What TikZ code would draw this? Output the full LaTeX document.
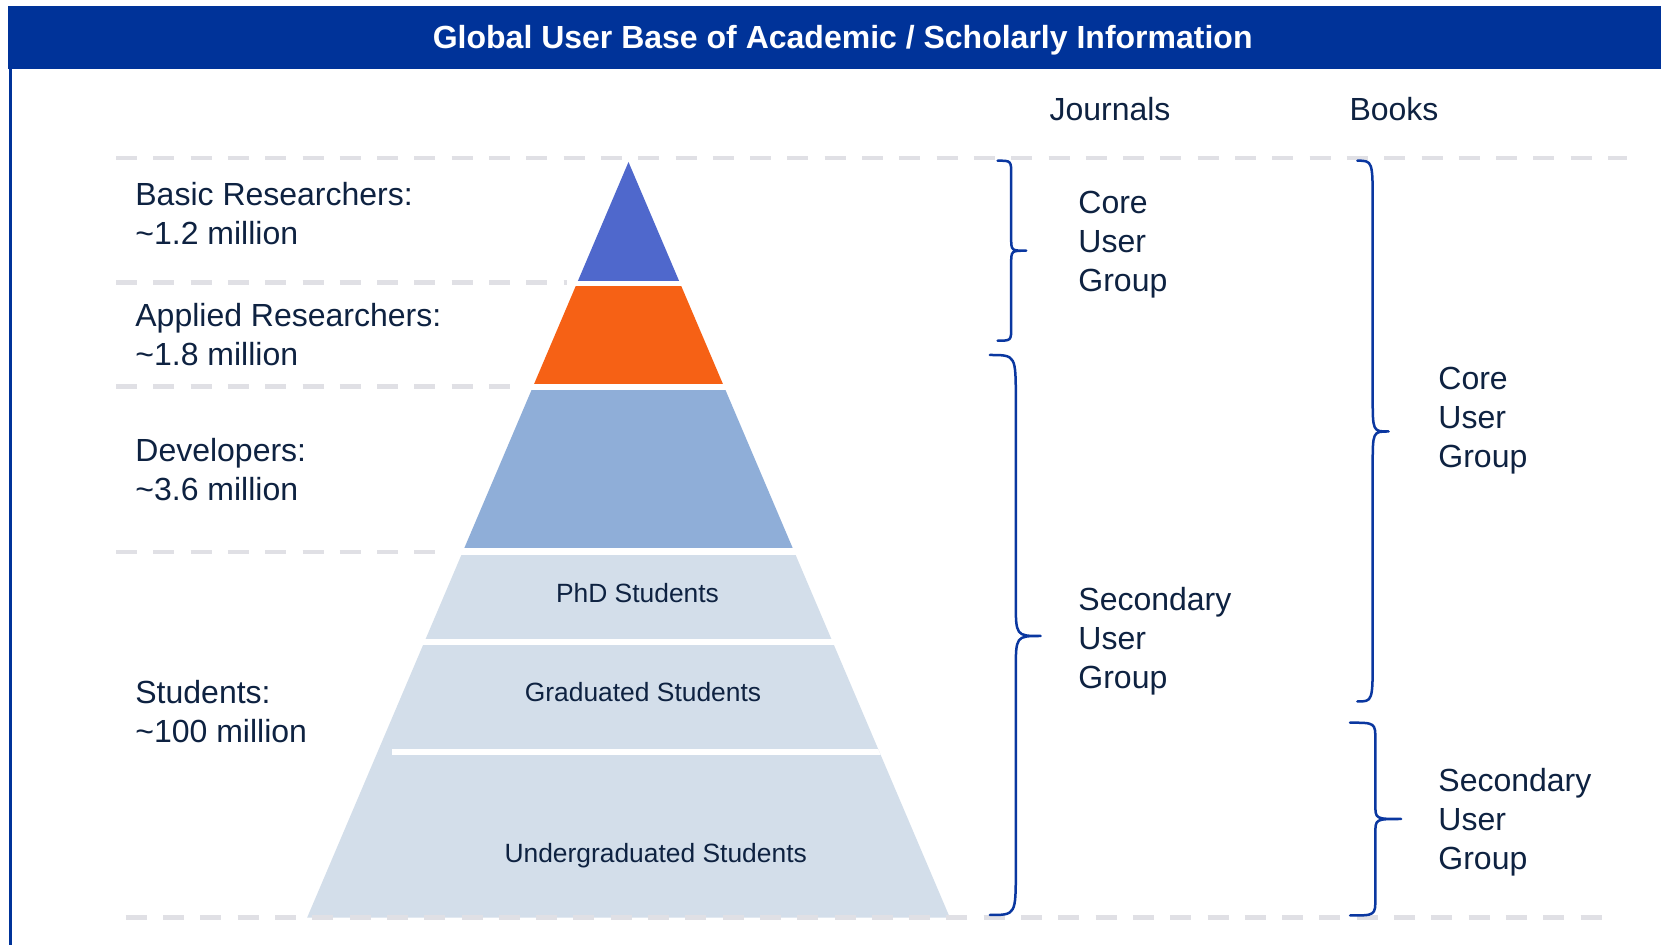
\documentclass[tikz,border=0pt]{standalone}
\usepackage{fontspec}
\setmainfont{Liberation Sans}
\definecolor{barblue}{HTML}{003399}
\definecolor{txt}{HTML}{0E2241}
\definecolor{tipblue}{HTML}{4F68CC}
\definecolor{orng}{HTML}{F66115}
\definecolor{midblue}{HTML}{8FAED8}
\definecolor{pale}{HTML}{D3DEEA}
\definecolor{dashgray}{HTML}{E0E0E5}
\definecolor{bracecol}{HTML}{0A37A0}
\begin{document}
\begin{tikzpicture}[x=0.5pt,y=-0.5pt,
  gridline/.style={draw=dashgray, line width=2.25pt, dash pattern=on 10.5pt off 8.15pt},
  lbl/.style={text=txt, font=\fontsize{16pt}{19.5pt}\selectfont, anchor=west, align=left, inner sep=0pt},
  hdr/.style={text=txt, font=\fontsize{16pt}{19.5pt}\selectfont, inner sep=0pt},
  lay/.style={text=txt, font=\fontsize{13.2pt}{15pt}\selectfont, inner sep=0pt},
  bracestyle/.style={draw=bracecol, line width=1.25pt, line cap=round, line join=round}
]
\useasboundingbox (0,0) rectangle (1661,945);
\fill[white] (0,0) rectangle (1661,945);
% title bar and left rule
\fill[barblue] (8,6) rectangle (1661,69);
\draw[barblue, line width=1.35pt] (10.5,68) -- (10.5,945);
\node[text=white, font=\bfseries\fontsize{16pt}{19pt}\selectfont, inner sep=0pt] (title) at (842.7,40.5) {Global User Base of Academic / Scholarly Information};

% dashed guide lines
\draw[gridline] (116,157.8) -- (1627,157.8);
\draw[gridline] (116,282.7) -- (567,282.7);
\draw[gridline] (116,386.7) -- (520,386.7);
\draw[gridline] (116,552) -- (440,552);

% pyramid
\begin{scope}
\clip (628.5,162) -- (949.9,917.7) -- (307.1,917.7) -- cycle;
\fill[tipblue] (250,150) rectangle (1000,280.7);
\fill[orng] (250,286.5) rectangle (1000,384);
\fill[midblue] (250,390) rectangle (1000,548.5);
\fill[pale] (250,555) rectangle (1000,638.7);
\fill[pale] (250,645) rectangle (1000,917.7);
\fill[white] (392,749) rectangle (1000,755);
\end{scope}
\draw[gridline] (125.8,917.5) -- (1605,917.5);

% pyramid labels
\node[lay] (phd) at (637.5,593) {PhD Students};
\node[lay] (grad) at (643,692) {Graduated Students};
\node[lay] (ugrad) at (655.7,856) {Undergraduated Students};

% left labels
\node[lbl] (basic) at (135,214) {Basic Researchers:\\\textasciitilde 1.2 million};
\node[lbl] (applied) at (135,335) {Applied Researchers:\\\textasciitilde 1.8 million};
\node[lbl] (dev) at (135,469.5) {Developers:\\\textasciitilde 3.6 million};
\node[lbl] (stud) at (135,711.5) {Students:\\\textasciitilde 100 million};

% headers
\node[hdr] (journals) at (1110,109) {Journals};
\node[hdr] (books) at (1394,109) {Books};

% group labels
\node[lbl] (jcore) at (1078,245) {Core\\User\\Group};
\node[lbl] (jsec) at (1078,641) {Secondary\\User\\Group};
\node[lbl] (bcore) at (1438,420.5) {Core\\User\\Group};
\node[lbl] (bsec) at (1438,822) {Secondary\\User\\Group};

% braces
\draw[bracestyle] (997.6,160.7) .. controls (1011.2,160.7) .. (1011.2,174.7) -- (1011.2,237.7)
  .. controls (1011.2,250.7) .. (1026.2,250.7) .. controls (1011.2,250.7) .. (1011.2,263.7)
  -- (1011.2,326.7) .. controls (1011.2,340.7) .. (997.6,340.7);
\draw[bracestyle] (989.9,355) .. controls (1015.8,355) .. (1015.8,400) -- (1015.8,601)
  .. controls (1015.8,636) .. (1040.7,636) .. controls (1015.8,636) .. (1015.8,671)
  -- (1015.8,870) .. controls (1015.8,915) .. (989.9,915);
\draw[bracestyle] (1357.3,160.7) .. controls (1372.7,160.7) .. (1372.7,205.7) -- (1372.7,396.5)
  .. controls (1372.7,431.5) .. (1388.5,431.5) .. controls (1372.7,431.5) .. (1372.7,466.5)
  -- (1372.7,656.5) .. controls (1372.7,701.5) .. (1357.3,701.5);
\draw[bracestyle] (1350,722.7) .. controls (1375.4,722.7) .. (1375.4,740.7) -- (1375.4,805)
  .. controls (1375.4,819) .. (1401.2,819) .. controls (1375.4,819) .. (1375.4,833)
  -- (1375.4,897.5) .. controls (1375.4,915.5) .. (1350,915.5);
\end{tikzpicture}
\end{document}
